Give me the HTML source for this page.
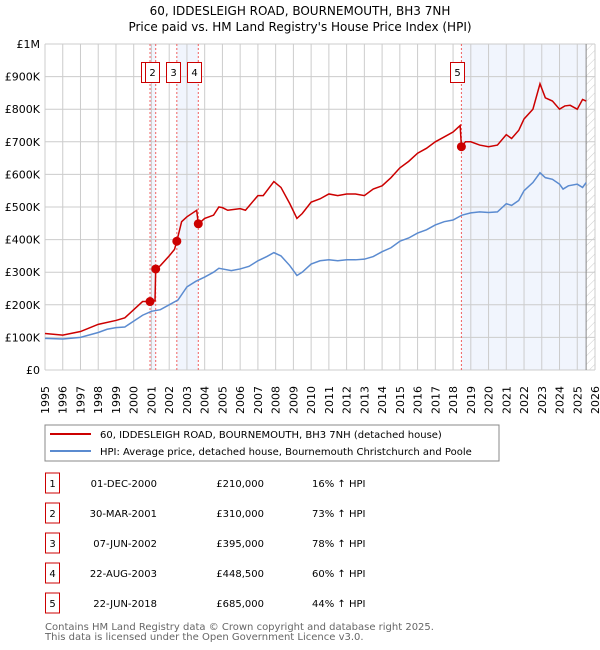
<!DOCTYPE html>
<html><head><meta charset="utf-8"><style>
body{margin:0;background:#fff;font-family:"DejaVu Sans","Liberation Sans",sans-serif;}
svg{display:block}
</style></head><body>
<svg width="600" height="650" xmlns="http://www.w3.org/2000/svg" id="svg">
<defs><pattern id="hatch" width="6" height="6" patternUnits="userSpaceOnUse" patternTransform="rotate(45)"><line x1="0" y1="0" x2="0" y2="6" stroke="#ccc" stroke-width="1"/></pattern></defs>
<text x="300" y="15" text-anchor="middle" font-size="12">60, IDDESLEIGH ROAD, BOURNEMOUTH, BH3 7NH</text>
<text x="300" y="31" text-anchor="middle" font-size="12">Price paid vs. HM Land Registry's House Price Index (HPI)</text>
<g id="plot"></g>
<rect x="45" y="425" width="454" height="36" fill="#fff" stroke="#888"/>
<line x1="50" y1="434" x2="91" y2="434" stroke="#cc0000" stroke-width="2"/>
<text x="100" y="438" font-size="10">60, IDDESLEIGH ROAD, BOURNEMOUTH, BH3 7NH (detached house)</text>
<line x1="50" y1="451" x2="91" y2="451" stroke="#5b8bd0" stroke-width="2"/>
<text x="100" y="455" font-size="10">HPI: Average price, detached house, Bournemouth Christchurch and Poole</text>
<g id="table" font-size="10"></g>
<text x="45" y="630" font-size="10" fill="#666">Contains HM Land Registry data © Crown copyright and database right 2025.</text>
<text x="45" y="640" font-size="10" fill="#666">This data is licensed under the Open Government Licence v3.0.</text>
</svg>
<script>
const yearTicks=[1995,1996,1997,1998,1999,2000,2001,2002,2003,2004,2005,2006,2007,2008,2009,2010,2011,2012,2013,2014,2015,2016,2017,2018,2019,2020,2021,2022,2023,2024,2025,2026];
const valueTicks=[0,100,200,300,400,500,600,700,800,900,1000];
const valueTickLabels=["£0","£100K","£200K","£300K","£400K","£500K","£600K","£700K","£800K","£900K","£1M"];
const hpiYears=[1995,1996,1997,1998,1998.5,1999,1999.5,2000,2000.5,2001,2001.5,2002,2002.5,2003,2003.5,2004,2004.5,2004.8,2005,2005.5,2006,2006.5,2007,2007.5,2007.9,2008.3,2008.8,2009.2,2009.5,2010,2010.5,2011,2011.5,2012,2012.5,2013,2013.5,2014,2014.5,2015,2015.5,2016,2016.5,2017,2017.5,2018,2018.5,2019,2019.5,2020,2020.5,2021,2021.3,2021.7,2022,2022.5,2022.9,2023.2,2023.6,2024,2024.2,2024.5,2025,2025.3,2025.5];
const hpiValues=[97,95,100,115,125,130,132,150,168,180,185,200,215,255,272,285,300,312,310,305,310,318,335,348,360,350,320,290,300,325,335,338,335,338,338,340,348,363,375,395,405,420,430,445,455,460,475,482,485,483,485,510,505,520,550,575,605,590,585,570,555,565,570,560,575];
const priceYears=[1995,1996,1997,1998,1999,1999.5,2000,2000.5,2000.92,2001.2,2001.24,2001.5,2002,2002.3,2002.43,2002.7,2003,2003.55,2003.64,2004,2004.5,2004.8,2005,2005.3,2006,2006.3,2007,2007.3,2007.9,2008.3,2008.8,2009.2,2009.5,2010,2010.5,2011,2011.5,2012,2012.5,2013,2013.5,2014,2014.5,2015,2015.5,2016,2016.5,2017,2017.5,2018,2018.4,2018.47,2018.7,2019,2019.5,2020,2020.5,2021,2021.3,2021.7,2022,2022.5,2022.9,2023.2,2023.6,2024,2024.3,2024.6,2025,2025.3,2025.5];
const priceValues=[112,107,118,140,152,160,185,210,210,212,310,320,350,370,395,455,470,490,448,465,475,500,498,490,495,490,535,535,578,560,510,465,480,515,525,540,535,540,540,535,555,565,590,620,640,665,680,700,715,730,750,685,700,700,690,685,690,722,710,735,770,800,878,835,825,800,810,812,800,830,825];
const saleYears=[2000.92,2001.24,2002.43,2003.64,2018.47];
const saleValues=[210,310,395,448.5,685];
const saleLabels=["1","2","3","4","5"];
const saleDates=["01-DEC-2000","30-MAR-2001","07-JUN-2002","22-AUG-2003","22-JUN-2018"];
const salePrices=["£210,000","£310,000","£395,000","£448,500","£685,000"];
const saleHpi=["16% ↑ HPI","73% ↑ HPI","78% ↑ HPI","60% ↑ HPI","44% ↑ HPI"];
const dataEnd=2025.5;

const NS="http://www.w3.org/2000/svg";
const X0=45,X1=595,Y0=370,Y1=44;
const xs=t=>X0+(t-1995)/(2026-1995)*(X1-X0);
const ys=v=>Y0-v/1000*(Y0-Y1);
function mk(tag,attrs,parent){const e=document.createElementNS(NS,tag);for(const k in attrs)e.setAttribute(k,attrs[k]);parent.appendChild(e);return e;}
const g=document.getElementById('plot');
const shades=[[saleYears[0],saleYears[1]],[saleYears[2],saleYears[3]],[saleYears[4],dataEnd]];
shades.forEach(s=>{const r=mk('rect',{x:xs(s[0]),y:Y1,width:xs(s[1])-xs(s[0]),height:Y0-Y1,fill:'#eef3fc',opacity:0.8},g);

});
const h=mk('rect',{x:xs(dataEnd),y:Y1,width:X1-xs(dataEnd),height:Y0-Y1,fill:'url(#hatch)'},g);


yearTicks.forEach(t=>{const l=mk('line',{x1:xs(t),x2:xs(t),y1:Y1,y2:Y0,stroke:'#ccc','stroke-width':1},g);


const tx=mk('text',{transform:`translate(${xs(t)+4},${Y0+44}) rotate(-90)`,'font-size':11},g);tx.textContent=t;

});
valueTicks.forEach((v,i)=>{const l=mk('line',{x1:X0,x2:X1,y1:ys(v),y2:ys(v),stroke:'#ccc','stroke-width':1},g);


const tx=mk('text',{x:40,y:ys(v)+4,'text-anchor':'end','font-size':11},g);tx.textContent=valueTickLabels[i];

});
const el=mk('line',{x1:xs(dataEnd),x2:xs(dataEnd),y1:Y1,y2:Y0,stroke:'#888','stroke-width':1},g);


saleYears.forEach(t=>{const l=mk('line',{x1:xs(t),x2:xs(t),y1:Y1,y2:Y0,stroke:'#f06060','stroke-width':1,'stroke-dasharray':'2,2'},g);

});
const hp=mk('polyline',{points:hpiYears.map((t,i)=>xs(t)+','+ys(hpiValues[i])).join(' '),fill:'none',stroke:'#5b8bd0','stroke-width':1.5},g);


const pp=mk('polyline',{points:priceYears.map((t,i)=>xs(t)+','+ys(priceValues[i])).join(' '),fill:'none',stroke:'#cc0000','stroke-width':1.5},g);


saleYears.forEach((t,i)=>{const c=mk('circle',{cx:xs(t),cy:ys(saleValues[i]),r:4.5,fill:'#cc0000'},g);

});
saleYears.forEach((t,i)=>{const bx=Math.round(xs(t))-(i===0?9:11)+0.5;const b=mk('rect',{x:bx,y:62.5,width:14,height:20,fill:'#fff',stroke:'#cc0000'},g);


const tx=mk('text',{x:bx+7,y:76,'text-anchor':'middle','font-size':10},g);tx.textContent=saleLabels[i];

});
const tb=document.getElementById('table');
saleLabels.forEach((s,i)=>{const cy=483+i*30;
const b=mk('rect',{x:45.5,y:cy-10,width:14,height:20,fill:'#fff',stroke:'#cc0000'},tb);


const cells=[[52.5,'middle',s,'table-row-number'],[157,'end',saleDates[i],'table-date'],[264,'end',salePrices[i],'table-price'],[312,'start',saleHpi[i],'table-hpi-change']];
cells.forEach(c=>{const tx=mk('text',{x:c[0],y:cy+4,'text-anchor':c[1]},tb);tx.textContent=c[2];

});});
</script>
</body></html>
